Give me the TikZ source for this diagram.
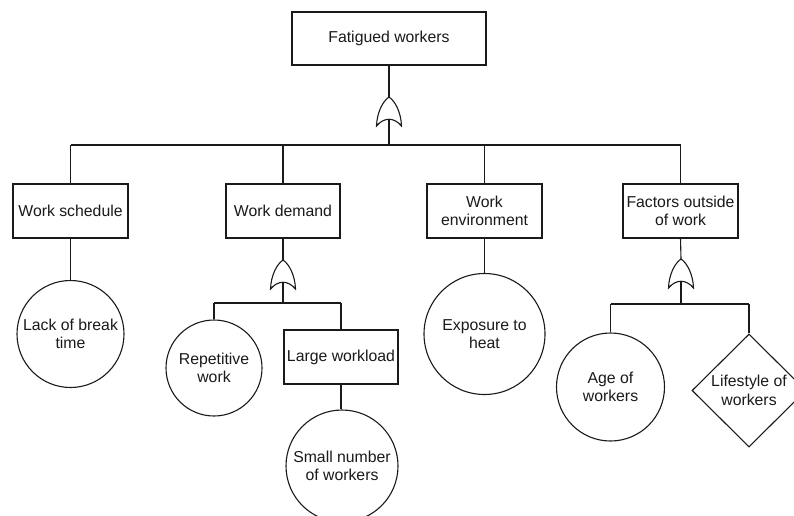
\documentclass[tikz,border=0pt]{standalone}
\usepackage{fontspec}
\setmainfont{Liberation Sans}
\usetikzlibrary{shapes.geometric}

\definecolor{ink}{HTML}{1A1A1A}

\tikzset{
  lbl/.style={text=ink, font=\fontsize{15.8}{18.5}\selectfont, align=center, inner sep=0pt},
  event/.style={lbl, draw=ink, rectangle, fill=white, minimum width=114pt, minimum height=54pt},
  basic/.style={lbl, draw=ink, circle, fill=white, minimum size=#1},
  undeveloped/.style={lbl, draw=ink, diamond, fill=white, aspect=1, minimum width=114pt, minimum height=113pt},
  orgate/.pic={
    % OR gate, origin at the middle of its base line
    \draw[fill=white]
      (-12.5,0) .. controls (-12,-14) and (-6,-25) .. (0,-29)
      .. controls (6,-25) and (12,-14) .. (12.5,0)
      .. controls (5,-9) and (-5,-9) .. cycle;
    \coordinate (-out) at (0,-29);
    \coordinate (-in) at (0,-7);
  }
}

\begin{document}
\begin{tikzpicture}[x=1pt, y=-1pt, line width=1.1pt, color=ink]
  \useasboundingbox (0,0) rectangle (794,515);
  \clip (0,0) rectangle (794,515);

  % top event
  \node[event, minimum width=194pt, minimum height=53pt] (top) at (389,38.5) {Fatigued workers};
  \pic (g1) at (389,126) {orgate};

  % intermediate events
  \node[event, minimum width=115pt] (ws) at (70.5,211) {Work schedule};
  \node[event] (wd) at (283,211) {Work demand};
  \node[event, minimum width=115pt] (we) at (484.5,211) {Work\\environment};
  \node[event, minimum width=115pt] (fo) at (680.5,211) {Factors outside\\of work};

  % lower level
  \node[basic=107pt] (lack) at (70.5,334) {Lack of break\\time};
  \pic (g2) at (283,289) {orgate};
  \node[basic=96pt] (rep) at (214,368) {Repetitive\\work};
  \node[event] (lw) at (341,357) {Large workload};
  \node[basic=112pt] (small) at (342,466) {Small number\\of workers};
  \node[basic=121pt] (exp) at (484.5,334) {Exposure to\\heat};
  \pic (g3) at (681,288) {orgate};
  \node[basic=108pt] (age) at (610.5,387) {Age of\\workers};
  \node[undeveloped] (life) at (749,390.5) {Lifestyle of\\workers};

  % bus levels
  \coordinate (bus1) at (389,145);
  \coordinate (bus2) at (283,303);
  \coordinate (bus3) at (681,304);

  % connectors: top event to first gate and its inputs
  \draw (top.south) -- (g1-out);
  \draw (g1-in) -- (bus1);
  \draw (ws.north |- bus1) -- (fo.north |- bus1);
  \foreach \n in {ws,wd,we,fo} \draw (\n.north) -- (\n.north |- bus1);

  % work schedule / environment branches
  \draw (ws.south) -- (lack.north);
  \draw (we.south) -- (exp.north);

  % work demand branch
  \draw (wd.south) -- (g2-out);
  \draw (g2-in) -- (bus2);
  \draw (rep.north |- bus2) -- (lw.north |- bus2);
  \draw (rep.north) -- (rep.north |- bus2);
  \draw (lw.north) -- (lw.north |- bus2);
  \draw (lw.south) -- (lw.south |- small.north);

  % outside-of-work branch
  \draw (fo.south) -- (g3-out);
  \draw (g3-in) -- (bus3);
  \draw (age.north |- bus3) -- (life.north |- bus3);
  \draw (age.north) -- (age.north |- bus3);
  \draw (life.north) -- (life.north |- bus3);
\end{tikzpicture}
\end{document}
